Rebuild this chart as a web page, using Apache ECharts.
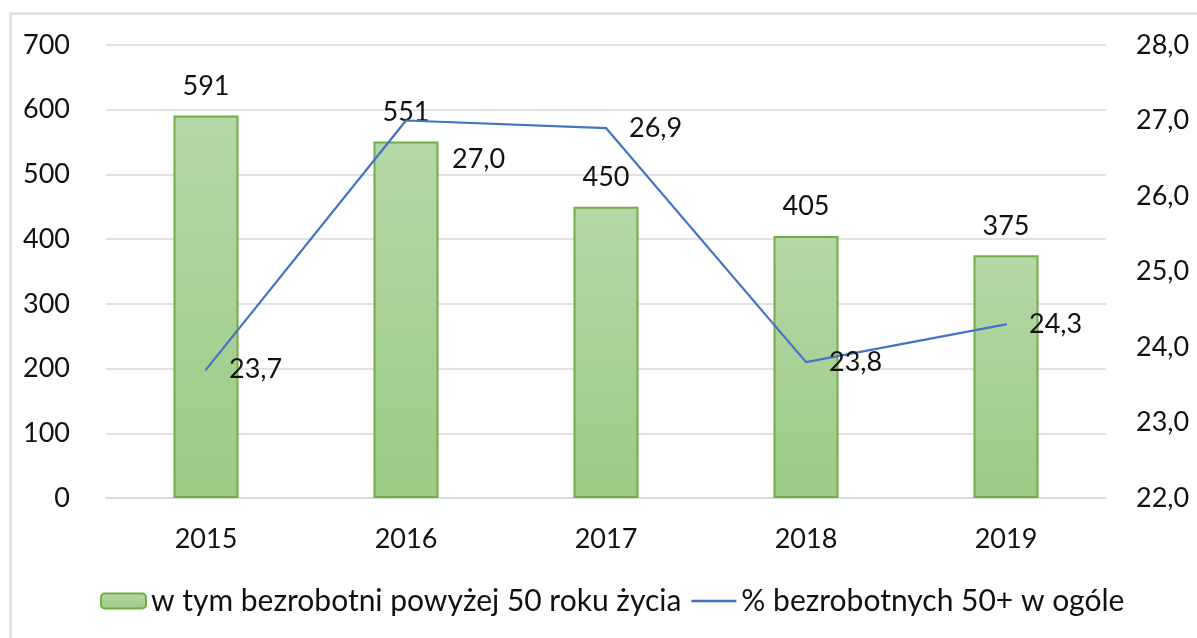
<!DOCTYPE html>
<html><head><meta charset="utf-8">
<script src="https://cdn.jsdelivr.net/npm/echarts@6/dist/echarts.min.js"></script>
<style>html,body{margin:0;padding:0;background:#fff}#c{width:1197px;height:638px}</style>
</head><body><div id="c"></div>
<script>
const categories = ['2015', '2016', '2017', '2018', '2019'];
const barValues = [591, 551, 450, 405, 375];
const lineValues = [23.7, 27.0, 26.9, 23.8, 24.3];
const barName = 'w tym bezrobotni powyżej 50 roku życia';
const lineName = '% bezrobotnych 50+ w ogóle';

const FONT = 'Lato';
const FS = 27;
const TXT = '#111';
const fmt = v => Number(v).toFixed(1).replace('.', ',');

const chart = echarts.init(document.getElementById('c'));
chart.setOption({
  animation: false,
  textStyle: { fontFamily: FONT },
  graphic: [{
    type: 'rect', shape: { x: 10.5, y: 13.5, width: 1300, height: 700 },
    style: { fill: 'none', stroke: '#d9d9d9', lineWidth: 2 }, silent: true, z: 0
  }],
  grid: { left: 106, right: 91, top: 45, bottom: 140 },
  legend: {
    bottom: 17, left: 95, itemGap: 10, itemWidth: 45, itemHeight: 15,
    textStyle: { fontFamily: FONT, fontSize: 30, color: TXT },
    data: [
      { name: barName },
      { name: lineName, icon: 'path://M0,0 L46,0 L46,2.5 L0,2.5 Z', itemStyle: { color: '#4472c4', opacity: 1 } }
    ]
  },
  xAxis: {
    type: 'category', data: categories,
    axisLine: { show: true, lineStyle: { color: '#d9d9d9', width: 1.5 } },
    axisTick: { show: false },
    axisLabel: { fontSize: FS, color: TXT, margin: 28, fontFamily: FONT }
  },
  yAxis: [{
    type: 'value', min: 0, max: 700, interval: 100,
    axisLine: { show: false }, axisTick: { show: false },
    splitLine: { lineStyle: { color: '#d9d9d9', width: 1.5 } },
    axisLabel: { fontSize: FS, color: TXT, margin: 36, fontFamily: FONT }
  }, {
    type: 'value', min: 22, max: 28, interval: 1,
    axisLine: { show: false }, axisTick: { show: false }, splitLine: { show: false },
    axisLabel: { fontSize: FS, color: TXT, margin: 30, fontFamily: FONT, formatter: fmt }
  }],
  series: [{
    name: barName, type: 'bar', data: barValues, barWidth: '32.5%',
    itemStyle: {
      borderColor: '#70ad47', borderWidth: 2,
      color: new echarts.graphic.LinearGradient(0, 0, 0, 1, [
        { offset: 0, color: '#b6d7a7' }, { offset: 1, color: '#9ccb84' }
      ])
    },
    label: { show: true, position: 'top', distance: 16, fontSize: FS, color: TXT, fontFamily: FONT }
  }, {
    name: lineName, type: 'line', yAxisIndex: 1, symbol: 'circle', symbolSize: 2, showSymbol: true,
    data: lineValues.map((v, i) => i === 1
      ? { value: v, label: { offset: [23, 39] } }
      : { value: v }),
    lineStyle: { color: '#4472c4', width: 2.2 },
    itemStyle: { color: '#4472c4' },
    label: { show: true, position: 'right', distance: 22, fontSize: FS, color: TXT, fontFamily: FONT, formatter: p => fmt(p.value) }
  }]
});
</script></body></html>
